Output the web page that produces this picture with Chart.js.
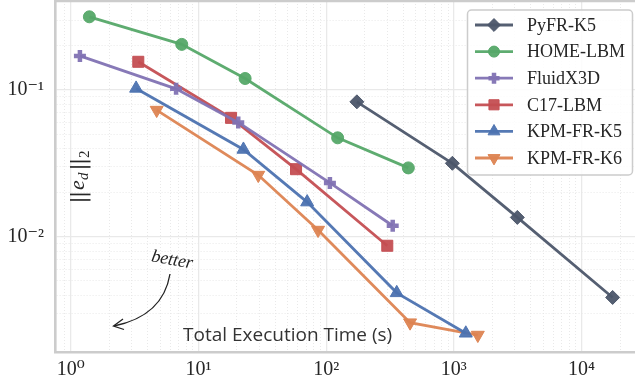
<!DOCTYPE html>
<html>
<head>
<meta charset="utf-8">
<script src="https://cdn.jsdelivr.net/npm/chart.js@4/dist/chart.umd.min.js"></script>
<style>
  html, body { margin: 0; padding: 0; background: #fff; }
  #wrap { width: 635px; height: 385px; }
</style>
</head>
<body>
<div id="wrap"><canvas id="chart" width="635" height="385"></canvas></div>
<script>
// series labels
const seriesNames = ['PyFR-K5', 'HOME-LBM', 'FluidX3D', 'C17-LBM', 'KPM-FR-K5', 'KPM-FR-K6'];

// total execution time (s) and error norm
const pyfrTime  = [174, 973, 3140, 17500];
const pyfrErr   = [0.0832, 0.0317, 0.01356, 0.00386];
const homeTime  = [1.40, 7.40, 23.2, 123, 440];
const homeErr   = [0.316, 0.205, 0.120, 0.0473, 0.0295];
const fluidTime = [1.18, 6.68, 20.5, 107, 332];
const fluidErr  = [0.171, 0.102, 0.0602, 0.0233, 0.0119];
const c17Time   = [3.38, 18.0, 58.1, 301];
const c17Err    = [0.156, 0.0647, 0.0289, 0.00869];
const k5Time    = [3.25, 22.5, 71, 357, 1240];
const k5Err     = [0.1027, 0.0394, 0.01725, 0.00415, 0.0022];
const k6Time    = [4.71, 29.4, 86.4, 454, 1540];
const k6Err     = [0.0731, 0.02635, 0.01112, 0.0026, 0.00214];

// tick labels
const xTickValues = [1, 10, 100, 1000, 10000];
const xTickLabels = ['10\u2070', '10\u00b9', '10\u00b2', '10\u00b3', '10\u2074'];
const yTickValues = [0.01, 0.1];
const yTickLabels = ['10\u207b\u00b2', '10\u207b\u00b9'];

const xTitle = 'Total Execution Time (s)';

function pairs(xs, ys) {
    return xs.map((x, i) => ({ x: x, y: ys[i] }));
}

function findLabel(v, values, labels) {
    for (let i = 0; i < values.length; i++) {
        if (Math.abs(Math.log10(v) - Math.log10(values[i])) < 1e-6) return labels[i];
    }
    return '';
}

function isDecade(v) {
    const l = Math.log10(v);
    return Math.abs(l - Math.round(l)) < 1e-6;
}

// keep only 1..9 x 10^k ticks (drop the 1.5 ones chart.js adds)
function keepIntegerMantissa(scale) {
    scale.ticks = scale.ticks.filter(t => {
        const m = t.value / Math.pow(10, Math.floor(Math.log10(t.value) + 1e-9));
        return Math.abs(m - Math.round(m)) < 1e-6;
    });
}

function makeSet(i, xs, ys, color, style, radius, extra) {
    return Object.assign({
        label: seriesNames[i],
        data: pairs(xs, ys),
        borderColor: color,
        backgroundColor: color,
        borderWidth: 2.8,
        pointStyle: style,
        pointRadius: radius,
        pointHoverRadius: radius,
        pointBackgroundColor: color,
        pointBorderColor: color,
        pointBorderWidth: 1,
        tension: 0
    }, extra || {});
}

const gridStyle = {
    color: ctx => (ctx.tick && isDecade(ctx.tick.value)) ? '#e9e9e9' : '#e6e6e6',
    lineWidth: ctx => (ctx.tick && isDecade(ctx.tick.value)) ? 1.3 : 0.9,
    drawTicks: false
};
const borderStyle = {
    display: true,
    color: '#cccccc',
    width: 2.6,
    dash: ctx => (ctx.tick && !isDecade(ctx.tick.value)) ? [1, 2] : []
};
const tickFont = { family: '"Liberation Serif", "DejaVu Serif", serif', size: 20 };

// frame, axis titles, the "better" note and the boxed legend
const decorPlugin = {
    id: 'decor',
    afterDatasetsDraw(chart) {
        const ctx = chart.ctx;
        const area = chart.chartArea;
        ctx.save();

        // top spine
        ctx.strokeStyle = '#cccccc';
        ctx.lineWidth = 2.6;
        ctx.beginPath();
        ctx.moveTo(area.left, area.top);
        ctx.lineTo(area.right, area.top);
        ctx.stroke();

        // x title inside the plot
        ctx.fillStyle = '#333333';
        ctx.font = '19px "Open Sans"';
        ctx.textAlign = 'left';
        ctx.textBaseline = 'alphabetic';
        ctx.fillText(xTitle, 183, 341);

        // y title ||e_d||_2, rotated
        ctx.save();
        ctx.translate(84, 177);
        ctx.rotate(-Math.PI / 2);
        ctx.fillStyle = '#262626';
        const parts = [
            { t: '|', f: '21px "DejaVu Serif"', dy: 1, gap: -1.5 },
            { t: '|', f: '21px "DejaVu Serif"', dy: 1, gap: 1 },
            { t: 'e', f: 'italic 22px "Liberation Serif"', dy: 0, gap: 0 },
            { t: 'd', f: 'italic 15px "Liberation Serif"', dy: 4, gap: 2 },
            { t: '|', f: '21px "DejaVu Serif"', dy: 1, gap: -1.5 },
            { t: '|', f: '21px "DejaVu Serif"', dy: 1, gap: 0 },
            { t: '2', f: '15px "Liberation Serif"', dy: 5, gap: 0 }
        ];
        let total = 0;
        parts.forEach(p => { ctx.font = p.f; p.w = ctx.measureText(p.t).width; total += p.w + p.gap; });
        let px = -total / 2;
        ctx.textAlign = 'left';
        parts.forEach(p => {
            ctx.font = p.f;
            ctx.fillText(p.t, px, p.dy);
            px += p.w + p.gap;
        });
        ctx.restore();

        // "better" note with curved arrow
        ctx.save();
        ctx.translate(172, 261);
        ctx.rotate(10 * Math.PI / 180);
        ctx.font = 'italic 18px "Liberation Serif"';
        ctx.textAlign = 'center';
        ctx.fillStyle = '#222222';
        ctx.fillText('better', 0, 4);
        ctx.restore();

        ctx.strokeStyle = '#222222';
        ctx.lineWidth = 1.3;
        ctx.beginPath();
        ctx.moveTo(170, 274);
        ctx.quadraticCurveTo(163, 316, 114, 326);
        ctx.stroke();
        ctx.beginPath();
        ctx.moveTo(123, 319);
        ctx.lineTo(113.5, 326);
        ctx.lineTo(124, 329.5);
        ctx.stroke();

        // legend box
        const lx = 467.5, ly = 10, lw = 165, lh = 165, r = 4;
        ctx.beginPath();
        ctx.moveTo(lx + r, ly);
        ctx.arcTo(lx + lw, ly, lx + lw, ly + lh, r);
        ctx.arcTo(lx + lw, ly + lh, lx, ly + lh, r);
        ctx.arcTo(lx, ly + lh, lx, ly, r);
        ctx.arcTo(lx, ly, lx + lw, ly, r);
        ctx.closePath();
        ctx.fillStyle = 'rgba(255,255,255,0.85)';
        ctx.fill();
        ctx.strokeStyle = '#cccccc';
        ctx.lineWidth = 1.5;
        ctx.stroke();

        chart.data.datasets.forEach((ds, i) => {
            const y = 25 + i * 26.6;
            ctx.strokeStyle = ds.borderColor;
            ctx.lineWidth = ds.borderWidth;
            ctx.beginPath();
            ctx.moveTo(475, y);
            ctx.lineTo(513, y);
            ctx.stroke();
            ctx.fillStyle = ds.pointBackgroundColor;
            ctx.strokeStyle = ds.pointBorderColor;
            ctx.lineWidth = ds.pointBorderWidth;
            Chart.helpers.drawPoint(ctx, {
                pointStyle: ds.pointStyle,
                rotation: ds.pointRotation || 0,
                radius: ds.pointRadius * 0.92,
                borderWidth: ds.pointBorderWidth
            }, 494, y);
            ctx.fillStyle = '#262626';
            ctx.font = '18px "Liberation Serif"';
            ctx.textAlign = 'left';
            ctx.textBaseline = 'middle';
            ctx.fillText(ds.label, 527, y + 1);
        });
        ctx.restore();
    }
};

function noPad(s) {
    s.paddingTop = 0;
    s.paddingBottom = 0;
    s.paddingLeft = 0;
    s.paddingRight = 0;
}

new Chart(document.getElementById('chart'), {
    type: 'line',
    data: {
        datasets: [
            makeSet(0, pyfrTime, pyfrErr, 'rgba(76,86,106,0.95)', 'rectRot', 7),
            makeSet(1, homeTime, homeErr, 'rgba(85,168,104,0.95)', 'circle', 6),
            makeSet(2, fluidTime, fluidErr, 'rgba(129,114,179,0.95)', 'cross', 6, { pointBorderWidth: 4.5 }),
            makeSet(3, c17Time, c17Err, 'rgba(196,78,82,0.95)', 'rect', 7.8),
            makeSet(4, k5Time, k5Err, 'rgba(76,114,176,0.95)', 'triangle', 7.5),
            makeSet(5, k6Time, k6Err, 'rgba(221,132,82,0.95)', 'triangle', 7.5, { pointRotation: 180 })
        ]
    },
    options: {
        responsive: false,
        animation: false,
        devicePixelRatio: 1,
        layout: { autoPadding: false, padding: { top: 1, right: 0, left: 0, bottom: 0 } },
        plugins: {
            legend: { display: false },
            tooltip: { enabled: false }
        },
        scales: {
            x: {
                type: 'logarithmic',
                min: 0.753,
                max: 26200,
                grid: gridStyle,
                border: borderStyle,
                afterBuildTicks: keepIntegerMantissa,
                afterFit: s => { s.height = 33; noPad(s); },
                ticks: {
                    autoSkip: false,
                    maxRotation: 0,
                    padding: 6,
                    color: '#262626',
                    font: tickFont,
                    callback: v => findLabel(v, xTickValues, xTickLabels)
                }
            },
            y: {
                type: 'logarithmic',
                min: 0.00164,
                max: 0.405,
                grid: gridStyle,
                border: borderStyle,
                afterBuildTicks: keepIntegerMantissa,
                afterFit: s => { s.width = 55; noPad(s); },
                ticks: {
                    autoSkip: false,
                    padding: 11,
                    color: '#262626',
                    font: tickFont,
                    callback: v => findLabel(v, yTickValues, yTickLabels)
                }
            }
        }
    },
    plugins: [decorPlugin]
});
</script>
</body>
</html>
